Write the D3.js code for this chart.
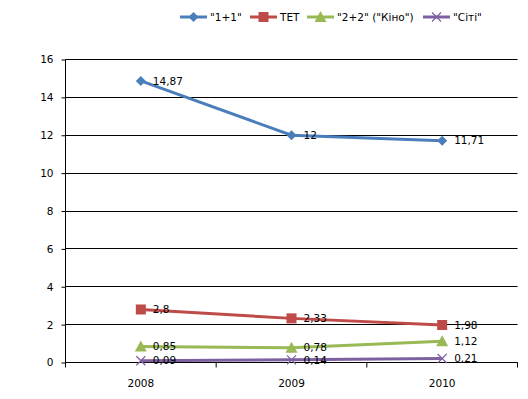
<!DOCTYPE html>
<html lang="uk">
<head>
<meta charset="UTF-8">
<title>Chart</title>
<script src="https://d3js.org/d3.v7.min.js"></script>
<style>
  body { margin: 0; background: #fff; }
  text { font-family: "DejaVu Sans", Verdana, sans-serif; font-size: 10.5px; fill: #000; }
</style>
</head>
<body>
<div id="chart"></div>
<script>
// data
const years = ["2008", "2009", "2010"];
const seriesNames = ["\"1+1\"", "ТЕТ", "\"2+2\" (\"Кіно\")", "\"Сіті\""];
const values1p1 = [14.87, 12, 11.71];
const valuesTet = [2.8, 2.33, 1.98];
const values2p2 = [0.85, 0.78, 1.12];
const valuesCity = [0.09, 0.14, 0.21];
const yTicks = [0, 2, 4, 6, 8, 10, 12, 14, 16];

const series = [
  { name: seriesNames[0], values: values1p1, color: "#4a7ebb", marker: "diamond" },
  { name: seriesNames[1], values: valuesTet, color: "#be4b48", marker: "square" },
  { name: seriesNames[2], values: values2p2, color: "#98b954", marker: "triangle" },
  { name: seriesNames[3], values: valuesCity, color: "#7d60a0", marker: "cross" }
];

const W = 528, H = 399;
const margin = { top: 59.5, right: 10.5, bottom: 36.5, left: 65.5 };
const width = W - margin.left - margin.right,
      height = H - margin.top - margin.bottom;

const svg = d3.select("#chart").append("svg")
    .attr("width", W).attr("height", H);

const g = svg.append("g")
    .attr("transform", `translate(${margin.left},${margin.top})`);

const x = d3.scaleBand().domain(years).range([0, width]);
const y = d3.scaleLinear().domain([0, 16]).range([height, 0]);

// gridlines
g.append("g").selectAll("line")
  .data(yTicks)
  .join("line")
    .attr("x1", 0).attr("x2", width)
    .attr("y1", d => Math.round(y(d)))
    .attr("y2", d => Math.round(y(d)))
    .attr("stroke", "#000").attr("stroke-width", 1);

// y axis
const yAxis = g.append("g")
  .call(d3.axisLeft(y).tickValues(yTicks).tickSize(4).tickPadding(8).tickFormat(d3.format("d")));
yAxis.select(".domain").attr("stroke", "#000").attr("d", `M0,0V${height}`);
yAxis.selectAll("text").style("font-size", "10.5px").style("font-family", "DejaVu Sans");

// x axis
const xAxis = g.append("g")
  .attr("transform", `translate(0,${height})`)
  .call(d3.axisBottom(x).tickSize(0).tickPadding(17));
xAxis.select(".domain").attr("d", `M0,0H${width}`).attr("stroke", "#000");
xAxis.selectAll("text").style("font-size", "10.5px").style("font-family", "DejaVu Sans");
// tick marks between categories
xAxis.append("g").selectAll("line")
  .data(d3.range(years.length + 1))
  .join("line")
    .attr("x1", i => i * x.step()).attr("x2", i => i * x.step())
    .attr("y1", 0).attr("y2", 5)
    .attr("stroke", "#000");

function drawMarker(sel, type, color) {
  if (type === "diamond") {
    sel.append("path").attr("d", "M0,-5L5,0L0,5L-5,0Z").attr("fill", color);
  } else if (type === "square") {
    sel.append("rect").attr("x", -5).attr("y", -5).attr("width", 10).attr("height", 10).attr("fill", color);
  } else if (type === "triangle") {
    sel.append("path").attr("d", "M0,-6L6,5L-6,5Z").attr("fill", color);
  } else {
    sel.append("path").attr("d", "M-4.5,-4.5L4.5,4.5M-4.5,4.5L4.5,-4.5")
      .attr("stroke", color).attr("stroke-width", 1.2).attr("fill", "none");
  }
}

const line = d3.line()
  .x((d, i) => x(years[i]) + x.bandwidth() / 2)
  .y(d => y(d));

const fmt = v => String(v).replace(".", ",");

// series
series.forEach(s => {
  const sg = g.append("g");
  sg.append("path")
    .attr("d", line(s.values))
    .attr("fill", "none")
    .attr("stroke", s.color)
    .attr("stroke-width", 3);
  s.values.forEach((v, i) => {
    const m = sg.append("g")
      .attr("transform", `translate(${x(years[i]) + x.bandwidth() / 2},${y(v)})`);
    drawMarker(m, s.marker, s.color);
  });
});

// data labels on top
series.forEach(s => {
  g.append("g").selectAll("text")
    .data(s.values)
    .join("text")
      .attr("x", (d, i) => x(years[i]) + x.bandwidth() / 2 + 12)
      .attr("y", d => y(d))
      .attr("dy", "0.35em")
      .text(d => fmt(d));
});

// legend
const legendX = [180, 250, 307, 423];
const legend = svg.append("g").attr("transform", "translate(0,17)");
series.forEach((s, i) => {
  const lg = legend.append("g").attr("transform", `translate(${legendX[i]},0)`);
  lg.append("line").attr("x1", 0).attr("x2", 27).attr("y1", 0).attr("y2", 0)
    .attr("stroke", s.color).attr("stroke-width", 3);
  const m = lg.append("g").attr("transform", "translate(13.5,0)");
  drawMarker(m, s.marker, s.color);
  lg.append("text").attr("x", 30).attr("y", 0).attr("dy", "0.35em").text(s.name);
});
</script>
</body>
</html>
